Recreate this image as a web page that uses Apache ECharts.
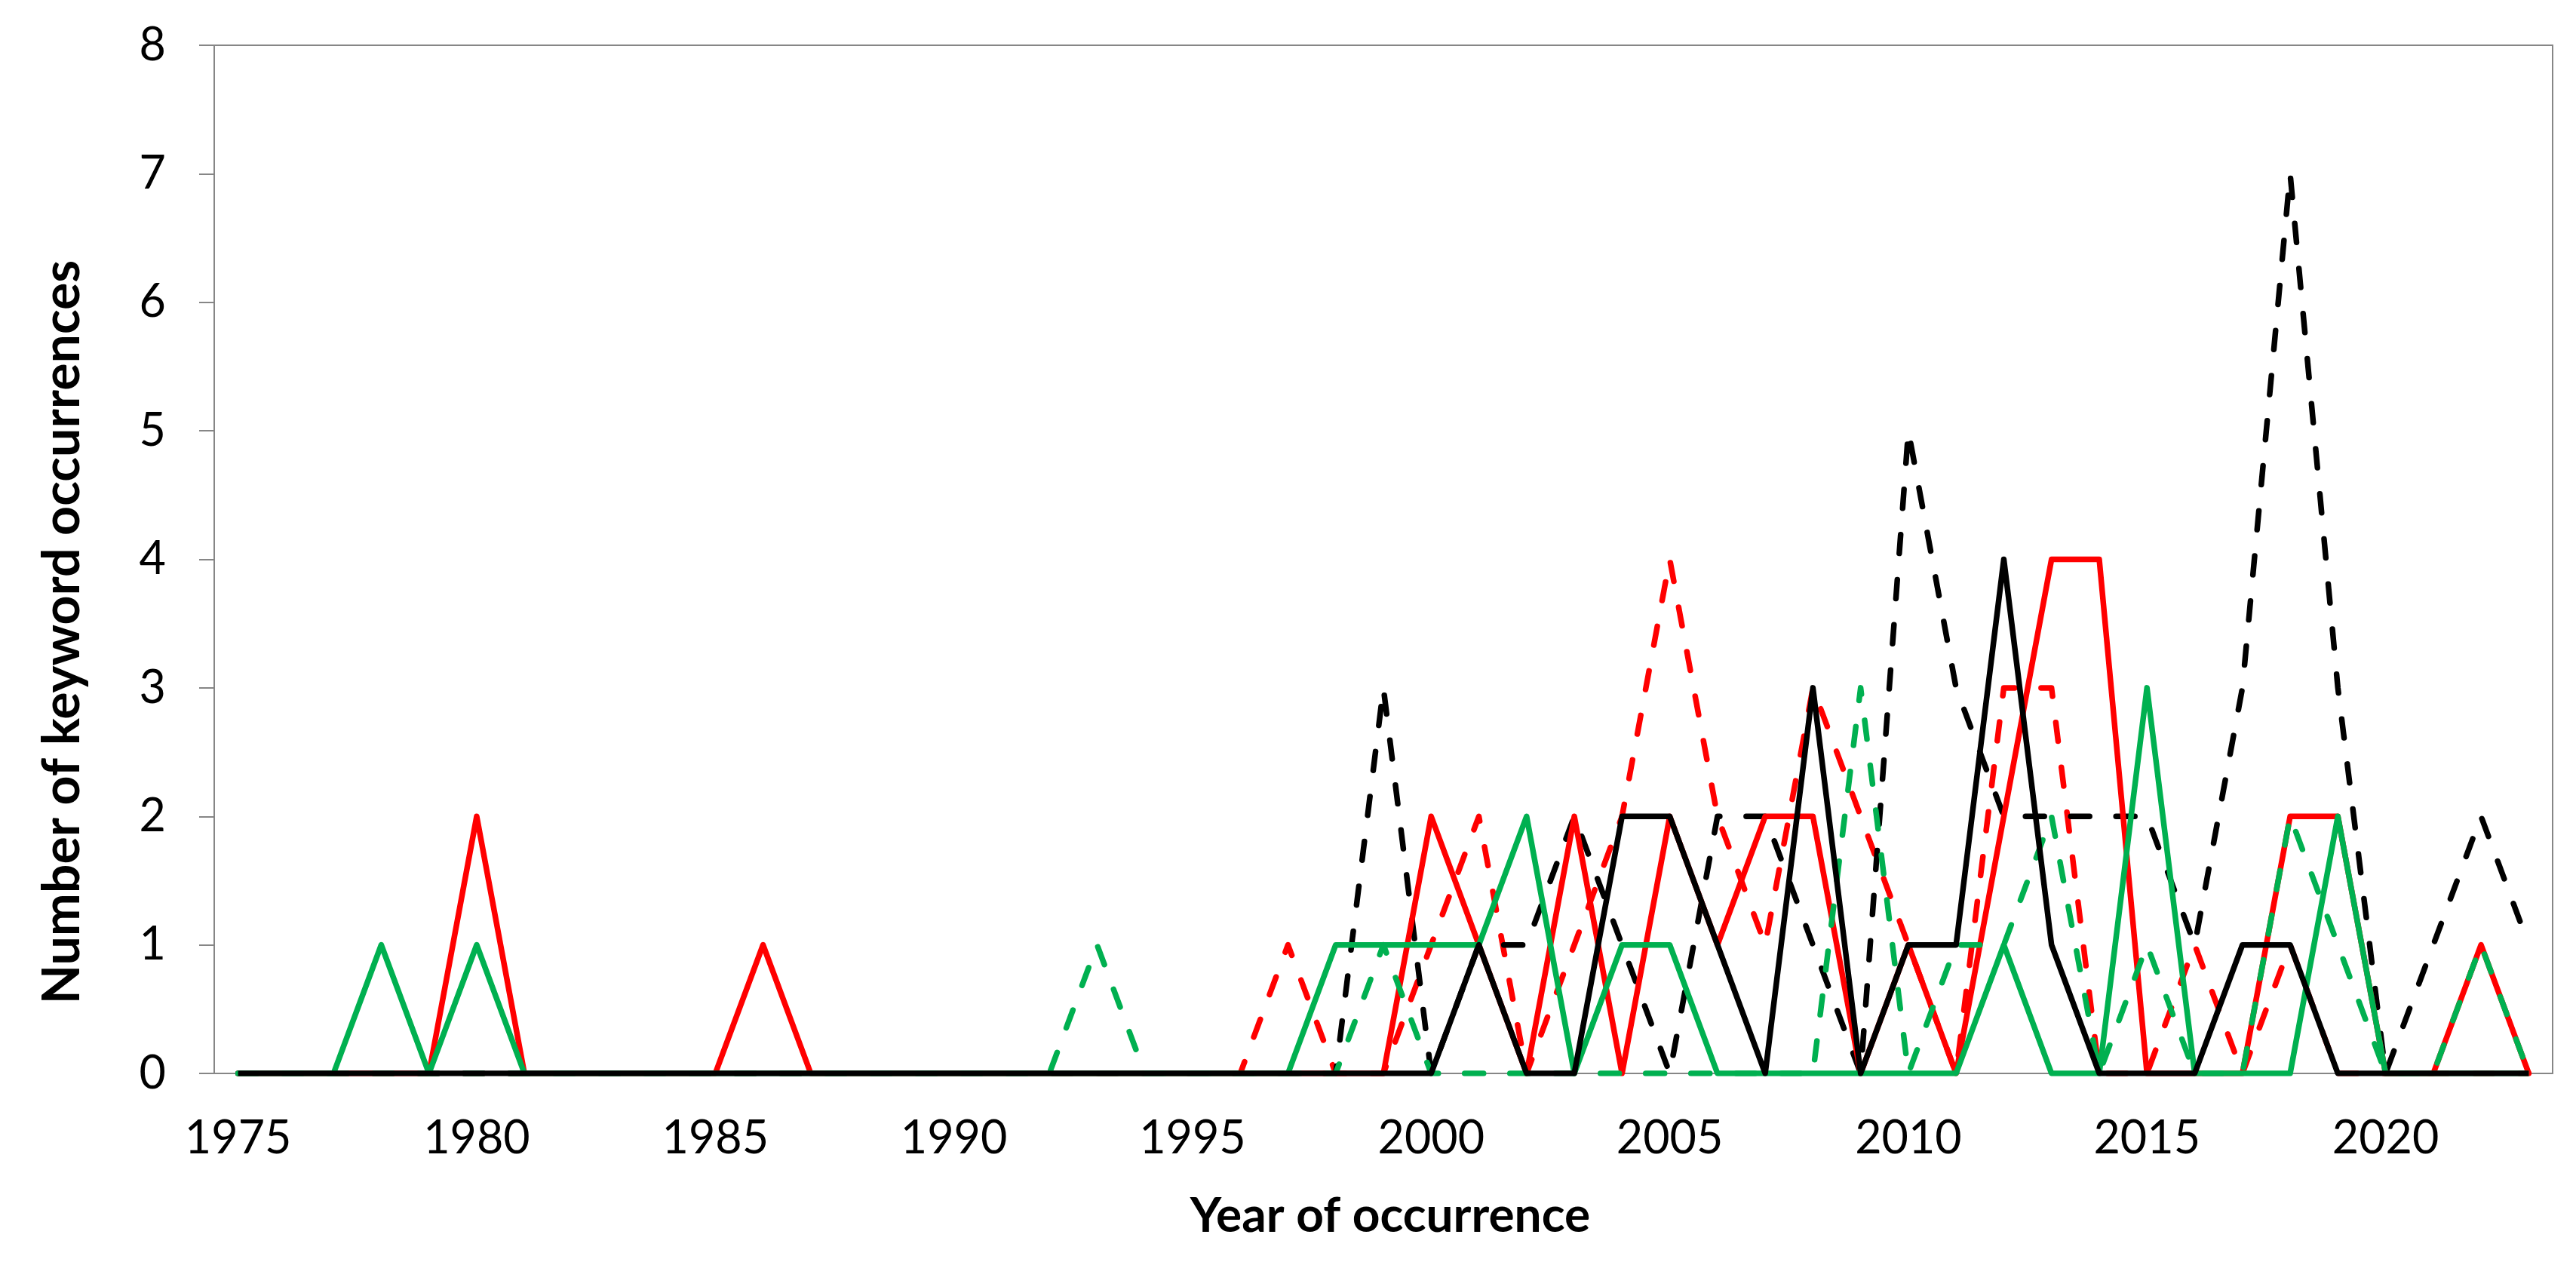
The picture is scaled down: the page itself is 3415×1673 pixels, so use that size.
<!DOCTYPE html>
<html>
<head>
<meta charset="utf-8">
<script src="https://cdn.jsdelivr.net/npm/echarts@6/dist/echarts.min.js"></script>
<style>
html,body{margin:0;padding:0;background:#fff;}
#chart{width:3415px;height:1673px;}
</style>
</head>
<body>
<div id="chart"></div>
<script>
// Categories (years)
const years = [
  '1975','1976','1977','1978','1979','1980','1981','1982','1983','1984',
  '1985','1986','1987','1988','1989','1990','1991','1992','1993','1994',
  '1995','1996','1997','1998','1999','2000','2001','2002','2003','2004',
  '2005','2006','2007','2008','2009','2010','2011','2012','2013','2014',
  '2015','2016','2017','2018','2019','2020','2021','2022','2023'
];

// Series values
const redSolid = [
  0,0,0,0,0,2,0,0,0,0,
  0,1,0,0,0,0,0,0,0,0,
  0,0,0,0,0,2,1,0,2,0,
  2,1,2,2,0,1,0,2,4,4,
  0,0,0,2,2,0,0,1,0
];
const redDashed = [
  0,0,0,0,0,0,0,0,0,0,
  0,0,0,0,0,0,0,0,0,0,
  0,0,1,0,0,1,2,0,1,2,
  4,2,1,3,2,1,0,3,3,0,
  0,1,0,1,0,0,0,0,0
];
const greenSolid = [
  0,0,0,1,0,1,0,0,0,0,
  0,0,0,0,0,0,0,0,0,0,
  0,0,0,1,1,1,1,2,0,1,
  1,0,0,0,0,0,0,1,0,0,
  3,0,0,0,2,0,0,0,0
];
const greenDashed = [
  0,0,0,0,0,0,0,0,0,0,
  0,0,0,0,0,0,0,0,1,0,
  0,0,0,0,1,0,0,0,0,0,
  0,0,0,0,3,0,1,1,2,0,
  1,0,0,2,1,0,0,1,0
];
const blackSolid = [
  0,0,0,0,0,0,0,0,0,0,
  0,0,0,0,0,0,0,0,0,0,
  0,0,0,0,0,0,1,0,0,2,
  2,1,0,3,0,1,1,4,1,0,
  0,0,1,1,0,0,0,0,0
];
const blackDashed = [
  0,0,0,0,0,0,0,0,0,0,
  0,0,0,0,0,0,0,0,0,0,
  0,0,0,0,3,0,1,1,2,1,
  0,2,2,1,0,5,3,2,2,2,
  2,1,3,7,3,0,1,2,1
];
const yTicks = [0,1,2,3,4,5,6,7,8];

const RED = '#FF0000', GREEN = '#00B050', BLACK = '#000000';
const FONT = 'Lato';
const LW = 7.5;
const DASH = [25, 35];

function mk(name, data, color, dashed) {
  return {
    name: name, type: 'line', data: data,
    symbol: 'none', showSymbol: false, smooth: false,
    lineStyle: {
      color: color, width: LW,
      type: dashed ? DASH : 'solid',
      cap: dashed ? 'round' : 'butt',
      join: 'round'
    },
    emphasis: { disabled: true },
    silent: true
  };
}

const chart = echarts.init(document.getElementById('chart'), null, { renderer: 'canvas' });
chart.setOption({
  animation: false,
  backgroundColor: '#ffffff',
  grid: {
    left: 284, right: 31, top: 60, bottom: 250,
    show: true, borderColor: '#868686', borderWidth: 2, backgroundColor: 'transparent'
  },
  xAxis: {
    type: 'category',
    data: years,
    boundaryGap: true,
    axisLine: { show: true, lineStyle: { color: '#868686', width: 2 } },
    axisTick: { show: false },
    splitLine: { show: false },
    axisLabel: {
      interval: 4, margin: 56,
      color: '#000', fontFamily: FONT, fontSize: 61
    }
  },
  yAxis: {
    type: 'value',
    min: yTicks[0], max: yTicks[yTicks.length - 1], interval: 1,
    axisLine: { show: true, lineStyle: { color: '#868686', width: 2 } },
    axisTick: { show: true, inside: false, length: 20, lineStyle: { color: '#868686', width: 2 } },
    splitLine: { show: false },
    axisLabel: {
      margin: 64, color: '#000', fontFamily: FONT, fontSize: 61
    }
  },
  graphic: [
    {
      type: 'text', x: 83, y: 838, rotation: Math.PI / 2,
      style: {
        text: 'Number of keyword occurrences',
        fill: '#000', fontFamily: FONT, fontWeight: 'bold', fontSize: 68,
        align: 'center', verticalAlign: 'middle',
        textAlign: 'center', textVerticalAlign: 'middle'
      }
    },
    {
      type: 'text', x: 1843, y: 1612,
      style: {
        text: 'Year of occurrence',
        fill: '#000', fontFamily: FONT, fontWeight: 'bold', fontSize: 64,
        align: 'center', verticalAlign: 'middle',
        textAlign: 'center', textVerticalAlign: 'middle'
      }
    }
  ],
  series: [
    mk('Red dashed', redDashed, RED, true),
    mk('Black dashed', blackDashed, BLACK, true),
    mk('Red solid', redSolid, RED, false),
    mk('Green dashed', greenDashed, GREEN, true),
    mk('Green solid', greenSolid, GREEN, false),
    mk('Black solid', blackSolid, BLACK, false)
  ]
});
</script>
</body>
</html>
